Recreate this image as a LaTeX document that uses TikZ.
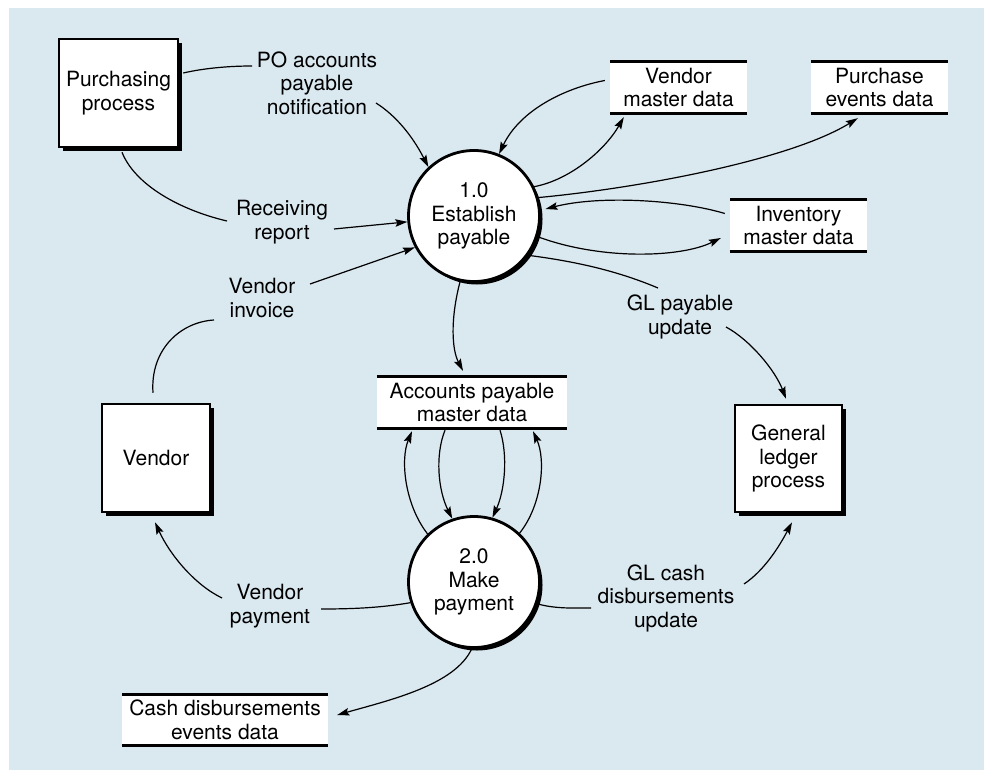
\documentclass[tikz,border=0pt]{standalone}
\usepackage{fontspec}
\setmainfont{TeX Gyre Heros}
\usetikzlibrary{arrows.meta,shadows}
\definecolor{panel}{RGB}{218,232,240}
\begin{document}
\begin{tikzpicture}[x=1pt,y=-1pt,
  txt/.style={font=\fontsize{21}{23.5}\selectfont, align=center, inner sep=0pt},
  entity/.style={txt, draw, line width=2.5pt, fill=white,
    drop shadow={shadow xshift=4pt, shadow yshift=-4pt, opacity=1, fill=black}},
  proc/.style={txt, circle, draw, line width=2.8pt, fill=white, minimum size=131pt,
    drop shadow={shadow xshift=3pt, shadow yshift=-3pt, opacity=1, fill=black}},
  store/.style={txt, fill=white, minimum height=51pt},
  storeline/.style={line width=3pt},
  flow/.style={line width=1.2pt, -{Stealth[length=12pt,width=7.5pt,inset=2pt]}},
  plain/.style={line width=1.2pt},
  lbl/.style={txt}
]
\useasboundingbox (0,0) rectangle (984,770);
\fill[panel] (9,8) rectangle (984,770);

% external entities
\node[entity, minimum width=119pt, minimum height=108pt] (pp) at (118.5,93) {Purchasing\\process};
\node[entity, minimum width=108pt, minimum height=108pt] (vend) at (156,458) {Vendor};
\node[entity, minimum width=107pt, minimum height=107pt] (gl) at (788.5,458.5) {General\\ledger\\process};

% processes
\node[proc] (c1) at (474,216) {1.0\\Establish\\payable};
\node[proc] (c2) at (474,582) {2.0\\Make\\payment};

% data stores
\node[store, minimum width=137pt] (vmd) at (678.5,87.5) {Vendor\\master data};
\node[store, minimum width=137pt] (ped) at (879.5,87.5) {Purchase\\events data};
\node[store, minimum width=137pt] (inv) at (798.5,225.5) {Inventory\\master data};
\node[store, minimum width=190pt] (ap) at (472,402.5) {Accounts payable\\master data};
\node[store, minimum width=206pt] (cde) at (225,720) {Cash disbursements\\events data};
\foreach \s in {vmd,ped,inv,ap,cde}{
  \draw[storeline] (\s.north west) -- (\s.north east) (\s.south west) -- (\s.south east);
}

% flow labels
\node[lbl] (lpo) at (317,83) {PO accounts\\payable\\notification};
\node[lbl] (lrr) at (282,222) {Receiving\\report};
\node[lbl] (lvi) at (262,298) {Vendor\\invoice};
\node[lbl] (lgp) at (680,317) {GL payable\\update};
\node[lbl] (lvp) at (270,606) {Vendor\\payment};
\node[lbl] (lgc) at (666,598) {GL cash\\disbursements\\update};

% flows into 1.0
\draw[plain] ([shift={(4,-20)}]pp.east) .. controls (205,68) and (230,66) .. ([shift={(-65,-17)}]lpo.center);
\draw[flow] ([shift={(59,20)}]lpo.center) .. controls (395,115) and (412,135) .. (c1.133);
\draw[plain] ([shift={(3.5,4)}]pp.south) .. controls (135,185) and (180,210) .. ([shift={(-55,-1)}]lrr.center);
\draw[flow] ([shift={(52,7)}]lrr.center) -- (c1.185);
\draw[plain] ([shift={(-3,-10)}]vend.north) .. controls (150,350) and (180,322) .. ([shift={(-48,22)}]lvi.center);
\draw[flow] ([shift={(48,-14)}]lvi.center) -- (c1.208);

% 1.0 and its data stores
\draw[flow] ([shift={(-5,-7)}]vmd.west) .. controls (565,88) and (520,110) .. (c1.68);
\draw[flow] (c1.26) .. controls (570,180) and (605,150) .. ([shift={(14,4)}]vmd.south west);
\draw[flow] (c1.16) .. controls (640,188) and (790,160) .. ([shift={(47,5)}]ped.south west);
\draw[flow] ([shift={(-5,-12)}]inv.west) .. controls (680,200) and (600,195) .. ([shift={(5,0)}]c1.6);
\draw[flow] (c1.-18) .. controls (600,260) and (680,258) .. ([shift={(-9,12.5)}]inv.west);
\draw[plain] (c1.-36) .. controls (580,262) and (620,272) .. ([shift={(-22,-29)}]lgp.center);
\draw[flow] ([shift={(46,10)}]lgp.center) .. controls (750,340) and (775,370) .. ([shift={(-2.5,-5)}]gl.north);
\draw[flow] (c1.-102) .. controls (450,320) and (452,350) .. ([shift={(-9,-6)}]ap.north);

% accounts payable and 2.0
\draw[flow] (c2.134) .. controls (405,505) and (400,460) .. ([shift={(-60,3)}]ap.south);
\draw[flow] ([shift={(-27,2)}]ap.south) .. controls (435,455) and (438,490) .. (c2.109);
\draw[flow] ([shift={(28,2)}]ap.south) .. controls (508,455) and (505,490) .. (c2.74);
\draw[flow] (c2.47) .. controls (542,505) and (546,460) .. ([shift={(61,3)}]ap.south);

% flows out of 2.0
\draw[plain] (c2.198) .. controls (380,608) and (350,609) .. ([shift={(51,3)}]lvp.center);
\draw[flow] ([shift={(-48,-8)}]lvp.center) .. controls (195,585) and (170,555) .. ([shift={(-1,9)}]vend.south);
\draw[plain] (c2.-19) .. controls (555,609) and (575,608) .. ([shift={(-75,10)}]lgc.center);
\draw[flow] ([shift={(78,-14)}]lgc.center) .. controls (765,570) and (780,545) .. ([shift={(3.5,9)}]gl.south);
\draw[flow] (c2.-92) .. controls (455,685) and (390,700) .. ([shift={(9,-5)}]cde.east);
\end{tikzpicture}
\end{document}
